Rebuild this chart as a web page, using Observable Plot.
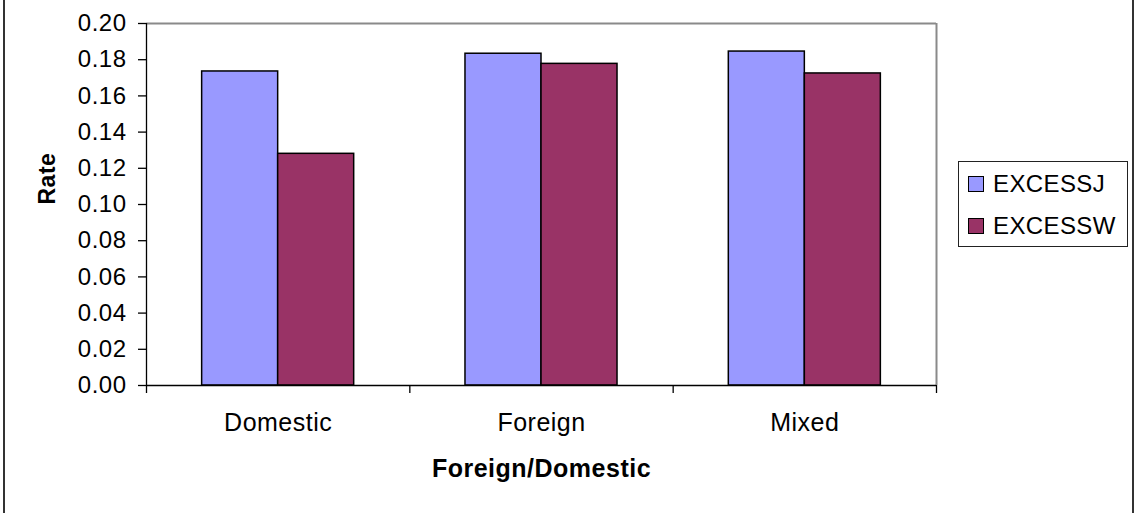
<!DOCTYPE html>
<html><head><meta charset="utf-8">
<script src="https://cdn.jsdelivr.net/npm/d3@7"></script>
<script src="https://cdn.jsdelivr.net/npm/@observablehq/plot@0.6"></script>
<style>
html,body{margin:0;padding:0;background:#fff;}
#wrap{position:relative;width:1136px;height:513px;overflow:hidden;font-family:"Liberation Sans",Arial,sans-serif;}
#chart{position:absolute;left:0;top:0;}
#chart text{letter-spacing:0.5px;}
#border{position:absolute;left:3px;top:-4px;width:1127px;height:530px;border-left:2px solid #333;border-right:2px solid #333;pointer-events:none;}
#legend{position:absolute;left:958px;top:161px;width:168px;height:84px;border:1px solid #222;background:#fff;box-sizing:content-box;}
.item{position:absolute;left:9px;height:30px;display:flex;align-items:center;font-size:24px;letter-spacing:0.4px;color:#000;white-space:nowrap;}
.sw{width:14px;height:14px;border:1px solid #000;margin-right:9px;}
</style></head>
<body><div id="wrap"><div id="chart"></div><div id="legend"></div><div id="border"></div></div>
<script>
const categories = ["Domestic", "Foreign", "Mixed"];
const series = ["EXCESSJ", "EXCESSW"];
const excessJ = [0.1735, 0.1833, 0.1845];
const excessW = [0.128, 0.1777, 0.1724];
const yTicks = [0, 0.02, 0.04, 0.06, 0.08, 0.10, 0.12, 0.14, 0.16, 0.18, 0.20];
const colors = ["#9999ff", "#993366"];
const xTitle = "Foreign/Domestic";
const yTitle = "Rate";

const rows = categories.flatMap((c, i) => [
  {category: c, series: series[0], value: excessJ[i]},
  {category: c, series: series[1], value: excessW[i]}
]);
const group = d3.scaleBand().domain(categories).range([0, categories.length]);
const sub = d3.scaleBand().domain(series).range([0, group.bandwidth()]).paddingOuter(0.732);
const boundaries = [...categories.map(c => group(c)), categories.length];
const centers = categories.map(c => group(c) + group.bandwidth() / 2);

const chart = Plot.plot({
  width: 1136, height: 513,
  marginLeft: 146, marginRight: 200, marginTop: 23, marginBottom: 128,
  style: {fontFamily: '"Liberation Sans", Arial, sans-serif', background: "transparent", color: "#000"},
  x: {type: "linear", domain: [0, categories.length], axis: null},
  y: {domain: [0, 0.2], axis: null},
  color: {domain: series, range: colors},
  marks: [
    Plot.rect(rows, {
      x1: d => group(d.category) + sub(d.series),
      x2: d => group(d.category) + sub(d.series) + sub.bandwidth(),
      y1: d => 0, y2: "value", fill: "series", stroke: "#000", strokeWidth: 1.5
    }),
    Plot.ruleY([0.2], {stroke: "#8a8a8a", strokeWidth: 2}),
    Plot.ruleX([categories.length], {stroke: "#8a8a8a", strokeWidth: 2}),
    Plot.ruleX([0], {stroke: "#000", strokeWidth: 1.3}),
    Plot.ruleY([0], {stroke: "#000", strokeWidth: 1.3}),
    Plot.axisY({ticks: yTicks, tickFormat: d3.format(".2f"), tickSize: 8, tickPadding: 12, fontSize: 24, label: null, strokeWidth: 1.3, strokeOpacity: 1}),
    Plot.axisX({ticks: boundaries, tickFormat: () => "", tickSize: 8, label: null, strokeWidth: 1.3, strokeOpacity: 1}),
    Plot.axisX({ticks: centers, tickFormat: v => categories[centers.indexOf(v)], tickSize: 0, tickPadding: 28, fontSize: 25, label: null}),
    Plot.text([xTitle], {frameAnchor: "bottom", lineAnchor: "top", dy: 74, fontSize: 25, fontWeight: "bold", fill: "#000"}),
    Plot.text([yTitle], {frameAnchor: "left", rotate: -90, dx: -99, fontSize: 23, fontWeight: "bold", fill: "#000"})
  ]
});
document.getElementById("chart").appendChild(chart);

const legend = document.getElementById("legend");
series.forEach((s, i) => {
  const it = document.createElement("div");
  it.className = "item";
  it.style.top = (7 + i * 42) + "px";
  const sw = document.createElement("div");
  sw.className = "sw";
  sw.style.background = colors[i];
  const tx = document.createElement("span");
  tx.textContent = s;
  it.appendChild(sw); it.appendChild(tx);
  legend.appendChild(it);
});
</script></body></html>
